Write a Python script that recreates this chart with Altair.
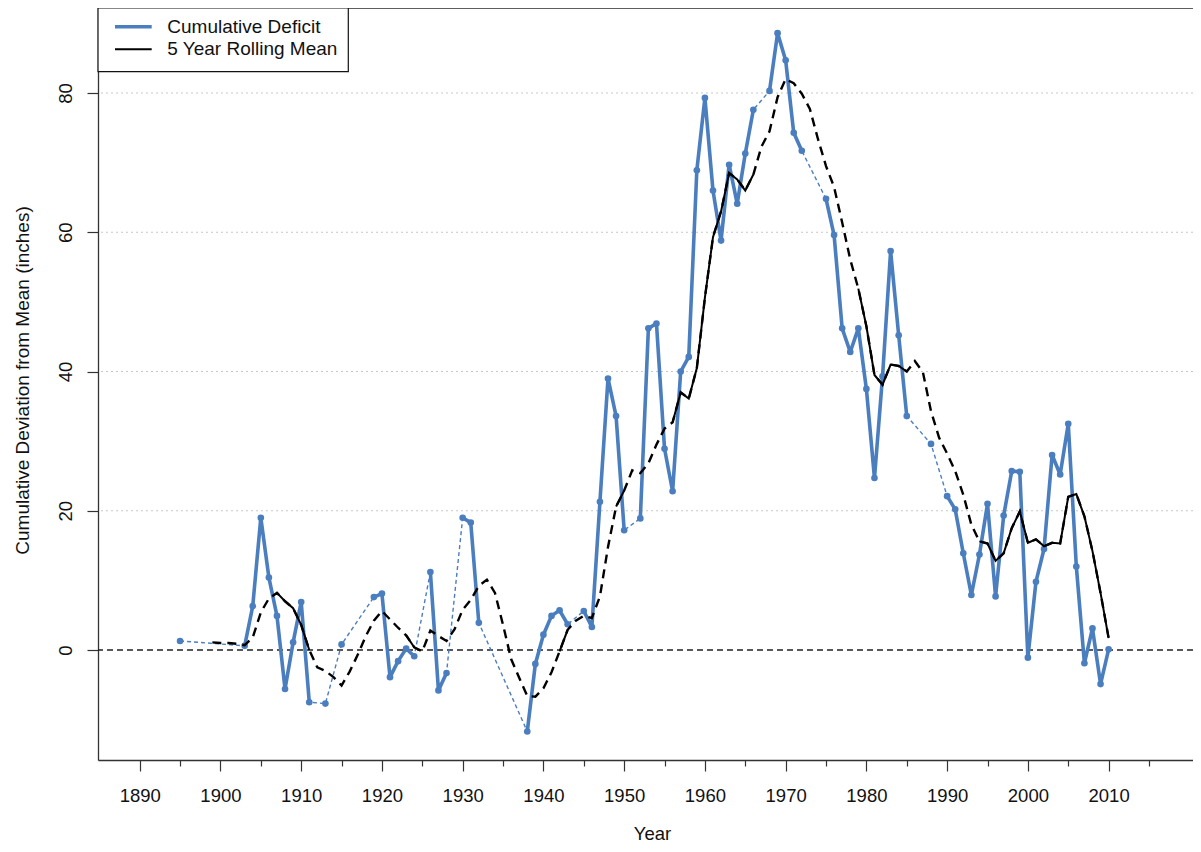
import altair as alt
import pandas as pd

# ---------------- data ----------------
years_cd = [1895, 1903, 1904, 1905, 1906, 1907, 1908, 1909, 1910, 1911,
            1913, 1915, 1919, 1920, 1921, 1922, 1923, 1924, 1926, 1927,
            1928, 1930, 1931, 1932, 1938, 1939, 1940, 1941, 1942, 1943,
            1945, 1946, 1947, 1948, 1949, 1950, 1952, 1953, 1954, 1955,
            1956, 1957, 1958, 1959, 1960, 1961, 1962, 1963, 1964, 1965,
            1966, 1968, 1969, 1970, 1971, 1972, 1975, 1976, 1977, 1978,
            1979, 1980, 1981, 1982, 1983, 1984, 1985, 1988, 1990, 1991,
            1992, 1993, 1994, 1995, 1996, 1997, 1998, 1999, 2000, 2001,
            2002, 2003, 2004, 2005, 2006, 2007, 2008, 2009, 2010]
values_cd = [1.3, 0.6, 6.3, 19.0, 10.4, 4.9, -5.6, 1.1, 6.9, -7.5,
             -7.7, 0.8, 7.6, 8.1, -3.9, -1.6, 0.2, -0.9, 11.2, -5.8,
             -3.3, 19.0, 18.3, 3.9, -11.7, -2.0, 2.2, 4.9, 5.7, 3.7,
             5.6, 3.3, 21.3, 39.0, 33.6, 17.2, 18.9, 46.2, 46.9, 28.9,
             22.8, 40.0, 42.1, 68.9, 79.3, 66.0, 58.8, 69.7, 64.1, 71.3,
             77.6, 80.3, 88.6, 84.7, 74.3, 71.7, 64.8, 59.6, 46.2, 42.8,
             46.2, 37.5, 24.7, 39.3, 57.3, 45.2, 33.6, 29.6, 22.1, 20.2,
             13.9, 7.9, 13.7, 21.0, 7.7, 19.3, 25.7, 25.6, -1.1, 9.8,
             14.5, 28.0, 25.2, 32.5, 12.0, -1.9, 3.1, -4.9, 0.1]

years_rm = list(range(1899, 2011))
values_rm = [
    1.1, 1.0, 1.0, 0.9, 0.7, 1.8, 5.4, 7.4, 8.2, 7.0,          # 1899-1908
    6.0, 3.6, 0.0, -2.5, -3.0, -3.9, -5.1, -3.1, -0.7, 2.0,    # 1909-1918
    4.2, 5.6, 4.4, 3.2, 2.1, 0.4, -0.2, 2.8, 2.0, 1.3,         # 1919-1928
    3.0, 5.8, 7.2, 9.2, 10.1, 8.2, 3.6, -1.3, -4.0, -6.6,      # 1929-1938
    -6.7, -5.5, -3.2, -0.2, 2.9, 4.2, 4.9, 4.6, 7.7, 14.8,     # 1939-1948
    20.6, 22.9, 25.8, 25.4, 26.8, 29.5, 31.8, 32.7, 37.0, 36.1,  # 1949-1958
    40.5, 50.6, 59.3, 63.0, 68.5, 67.6, 66.0, 68.3, 72.3, 74.5,  # 1959-1968
    79.4, 82.0, 81.4, 79.9, 77.7, 73.4, 69.5, 66.5, 61.4, 56.1,  # 1969-1978
    51.9, 46.5, 39.5, 38.1, 41.0, 40.8, 40.0, 41.5, 39.9, 34.3,  # 1979-1988
    30.5, 28.2, 25.7, 22.3, 18.0, 15.6, 15.3, 12.8, 13.9, 17.5,  # 1989-1998
    19.9, 15.4, 15.9, 14.9, 15.4, 15.3, 22.0, 22.4, 19.2, 14.2,  # 1999-2008
    8.2, 1.7,                                                  # 2009-2010
]

grid_values = [20, 40, 60, 80]
zero_value = [0]
x_tick_values = list(range(1890, 2016, 5))
y_tick_values = [0, 20, 40, 60, 80]
legend_labels = ["Cumulative Deficit", "5 Year Rolling Mean"]

BLUE = "#4a7ebf"
FONT = "Liberation Sans"

# ---------------- tables ----------------
cd = pd.DataFrame({"year": years_cd, "value": values_cd})
run = 0
runs = []
prev = None
for y in years_cd:
    if prev is not None and y != prev + 1:
        run += 1
    runs.append(run)
    prev = y
cd["run"] = runs

present = set(years_cd)
rm = pd.DataFrame({"year": years_rm, "value": values_rm})
rm["solid"] = [all((y - k) in present for k in range(5)) for y in years_rm]
srun = 0
sruns = []
prev_solid = False
for s in rm["solid"]:
    if s and not prev_solid:
        srun += 1
    sruns.append(srun if s else -1)
    prev_solid = s
rm["run"] = sruns
rm_solid = rm[rm["solid"]]

W, H = 1095, 752

xscale = alt.Scale(domain=[1884.835, 2020.45], nice=False, zero=False)
yscale = alt.Scale(domain=[-15.80, 92.21], nice=False, zero=False)

xaxis = alt.Axis(
    values=x_tick_values, format="d",
    labelExpr="datum.value % 10 === 0 ? datum.label : ''",
    tickSize={"condition": {"test": "datum.value % 10 === 0", "value": 11}, "value": 6},
    tickColor="#333", tickWidth=1.2, domainColor="#333", domainWidth=1.3,
    labelFont=FONT, labelFontSize=18.5, labelColor="#111",
    labelBaseline="alphabetic", labelPadding=30, labelFlush=False,
    grid=False, title="Year", titleFont=FONT, titleFontSize=18.5,
    titleFontWeight="normal", titleColor="#111",
    titleX=554, titleY=79, titleAlign="center", titleBaseline="alphabetic",
)
yaxis = alt.Axis(
    values=y_tick_values, tickSize=11, tickColor="#333", tickWidth=1.2,
    domainColor="#333", domainWidth=1.3,
    labelFont=FONT, labelFontSize=18.5, labelColor="#111",
    labelAngle=270, labelAlign="center", labelBaseline="alphabetic",
    labelPadding=16, grid=False,
    title="Cumulative Deviation from Mean (inches)", titleFont=FONT,
    titleFontSize=19, titleFontWeight="normal", titleColor="#111",
    titleAngle=270, titleX=-76, titleY=372, titleAlign="center",
    titleBaseline="middle",
)

X = alt.X("year:Q", scale=xscale, axis=xaxis)
Y = alt.Y("value:Q", scale=yscale, axis=yaxis)

grid = alt.Chart(pd.DataFrame({"value": grid_values})).mark_rule(
    color="#c8c8c8", strokeWidth=1, strokeDash=[2, 3]
).encode(y=Y)

zero = alt.Chart(pd.DataFrame({"value": zero_value})).mark_rule(
    color="#222", strokeWidth=1.3, strokeDash=[6, 4]
).encode(y=Y)

blue_dash = alt.Chart(cd).mark_line(
    color=BLUE, strokeWidth=1.4, strokeDash=[4, 3]
).encode(x=X, y=Y)

blue_solid = alt.Chart(cd).mark_line(
    color=BLUE, strokeWidth=3.6, strokeJoin="round"
).encode(x=X, y=Y, detail="run:N")

blue_pts = alt.Chart(cd).mark_circle(color=BLUE, opacity=1, size=44).encode(x=X, y=Y)

black_dash = alt.Chart(rm).mark_line(
    color="black", strokeWidth=2.4, strokeDash=[9, 6]
).encode(x=X, y=Y)

black_solid = alt.Chart(rm_solid).mark_line(
    color="black", strokeWidth=2.0
).encode(x=X, y=Y, detail="run:N")

one = pd.DataFrame({"k": [0]})
top_border = alt.Chart(one).mark_rule(color="#333", strokeWidth=1.3).encode(
    x=alt.value(0), x2=alt.value(W), y=alt.value(0)
)

leg_box = alt.Chart(one).mark_rect(fill="white", stroke="#111", strokeWidth=1.2).encode(
    x=alt.value(0), x2=alt.value(250.3), y=alt.value(0), y2=alt.value(63.7)
)
leg_line1 = alt.Chart(one).mark_rule(color=BLUE, strokeWidth=3.4).encode(
    x=alt.value(17), x2=alt.value(53.7), y=alt.value(18.7)
)
leg_line2 = alt.Chart(one).mark_rule(color="black", strokeWidth=2).encode(
    x=alt.value(17), x2=alt.value(53.7), y=alt.value(41.3)
)
leg_t1 = alt.Chart(pd.DataFrame({"label": [legend_labels[0]]})).mark_text(
    font=FONT, fontSize=19, align="left", baseline="middle", color="#111"
).encode(x=alt.value(69.3), y=alt.value(18.7), text="label:N")
leg_t2 = alt.Chart(pd.DataFrame({"label": [legend_labels[1]]})).mark_text(
    font=FONT, fontSize=19, align="left", baseline="middle", color="#111"
).encode(x=alt.value(69.3), y=alt.value(41.3), text="label:N")

chart = alt.layer(
    grid, zero, blue_dash, blue_solid, blue_pts, black_dash, black_solid,
    top_border, leg_box, leg_line1, leg_line2, leg_t1, leg_t2,
).properties(
    width=W, height=H,
    padding={"left": 90, "top": 0, "right": 0, "bottom": 84},
    autosize=alt.AutoSizeParams(type="none"),
).configure_view(stroke=None).configure(background="white")

chart.save("out.html", embed_options={"renderer": "svg", "actions": False})
